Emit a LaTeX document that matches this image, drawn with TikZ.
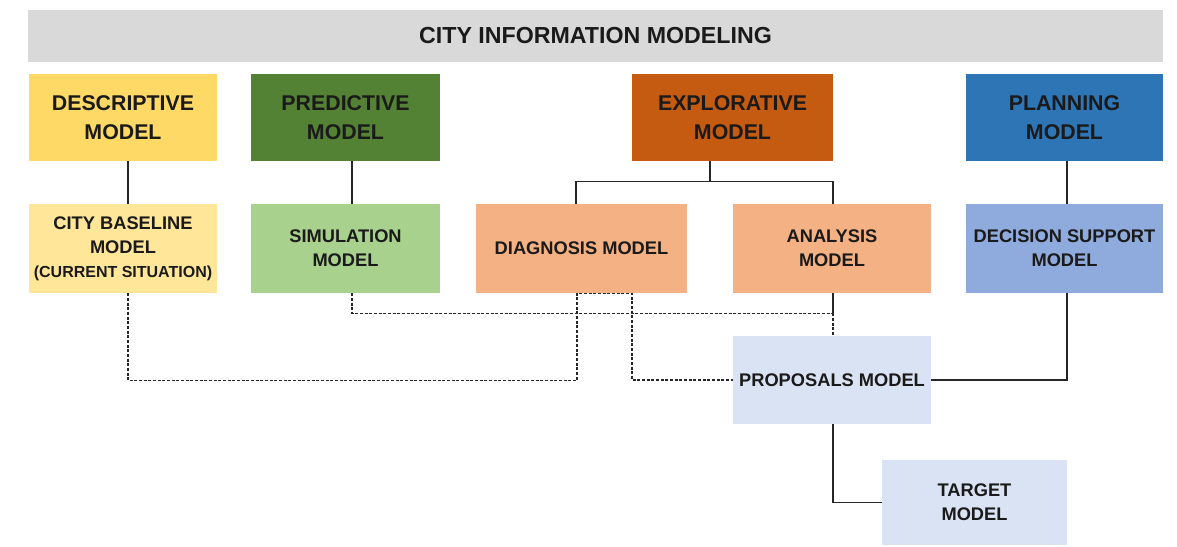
\documentclass[tikz,border=0pt]{standalone}
\usepackage{fontspec}
\setmainfont{Liberation Sans}
\usetikzlibrary{calc}
\definecolor{titlegray}{HTML}{D9D9D9}
\definecolor{descc}{HTML}{FFD966}
\definecolor{predc}{HTML}{548235}
\definecolor{explc}{HTML}{C55A11}
\definecolor{planc}{HTML}{2E75B6}
\definecolor{basec}{HTML}{FFE699}
\definecolor{simc}{HTML}{A9D18E}
\definecolor{orlc}{HTML}{F4B183}
\definecolor{decc}{HTML}{8FAADC}
\definecolor{propc}{HTML}{DAE3F3}
\definecolor{linec}{HTML}{262626}
\definecolor{txtc}{HTML}{1A1A1A}
\tikzset{
  wh/.style 2 args={minimum width=#1*0.75pt, minimum height=#2*0.75pt},
  box/.style={rectangle, inner sep=0pt, align=center, text=txtc, font=\bfseries},
  topfont/.style={font=\fontsize{16}{21.6}\selectfont\bfseries},
  lowfont/.style={font=\fontsize{13.7}{18}\selectfont\bfseries},
  conn/.style={draw=linec, line width=0.8pt},
  dsh/.style={draw=linec, line width=0.8pt, dash pattern=on 2.2pt off 1.3pt},
}
\begin{document}
\begin{tikzpicture}[x=0.75pt, y=-0.75pt]
\useasboundingbox (0,0) rectangle (1177,546);
\node[box, fill=titlegray, wh={1135}{52}, font=\fontsize{17.4}{21}\selectfont\bfseries] (title) at (595.5,36) {CITY INFORMATION MODELING};
\node[box, fill=descc, wh={188}{87}, topfont] (desc) at (123,117.5) {DESCRIPTIVE\\MODEL};
\node[box, fill=predc, wh={189}{87}, topfont] (pred) at (345.5,117.5) {PREDICTIVE\\MODEL};
\node[box, fill=explc, wh={201}{87}, topfont] (expl) at (732.5,117.5) {EXPLORATIVE\\MODEL};
\node[box, fill=planc, wh={197}{87}, topfont] (plan) at (1064.5,117.5) {PLANNING\\MODEL};
\node[box, fill=basec, wh={188}{89}, lowfont] (base) at (123,248.5) {CITY BASELINE\\MODEL\\{\fontsize{12}{16}\selectfont (CURRENT SITUATION)}};
\node[box, fill=simc, wh={189}{89}, lowfont] (sim) at (345.5,248.5) {SIMULATION\\MODEL};
\node[box, fill=orlc, wh={211}{89}, lowfont] (diag) at (581.5,248.5) {DIAGNOSIS MODEL};
\node[box, fill=orlc, wh={198}{89}, lowfont] (anal) at (832,248.5) {ANALYSIS\\MODEL};
\node[box, fill=decc, wh={197}{89}, lowfont] (dec) at (1064.5,248.5) {DECISION SUPPORT\\MODEL};
\node[box, fill=propc, wh={198}{88}, lowfont] (prop) at (832,380) {PROPOSALS MODEL};
\node[box, fill=propc, wh={185}{85}, lowfont] (targ) at (974.5,502.5) {TARGET\\MODEL};
% solid connectors
\draw[conn] ($(desc.south)+(5,0)$) -- ($(base.north)+(5,0)$);
\draw[conn] ($(pred.south)+(6.5,0)$) -- ($(sim.north)+(6.5,0)$);
\draw[conn] ($(expl.south)+(-22.5,0)$) -- ++(0,21);
\draw[conn] ($(diag.north)+(-5.5,0)$) -- ++(0,-22) -| ($(anal.north)+(1,0)$);
\draw[conn] ($(plan.south)+(2.5,0)$) -- ($(dec.north)+(2.5,0)$);
\draw[conn] ($(dec.south)+(2.5,0)$) |- (prop.east);
\draw[conn] ($(anal.south)+(1,0)$) -- ++(0,20) coordinate (aj);
\draw[conn] ($(prop.south)+(1,0)$) |- (targ.west);
% dashed connectors
\draw[dsh] (aj) -- ($(prop.north)+(1,0)$);
\draw[dsh] ($(sim.south)+(6.5,0)$) |- (aj);
\draw[dsh] ($(base.south)+(5,0)$) -- ++(0,87) -| ($(diag.south)+(-4.5,0)$) -- ($(diag.south)+(50.5,0)$) |- (prop.west);
\end{tikzpicture}
\end{document}
